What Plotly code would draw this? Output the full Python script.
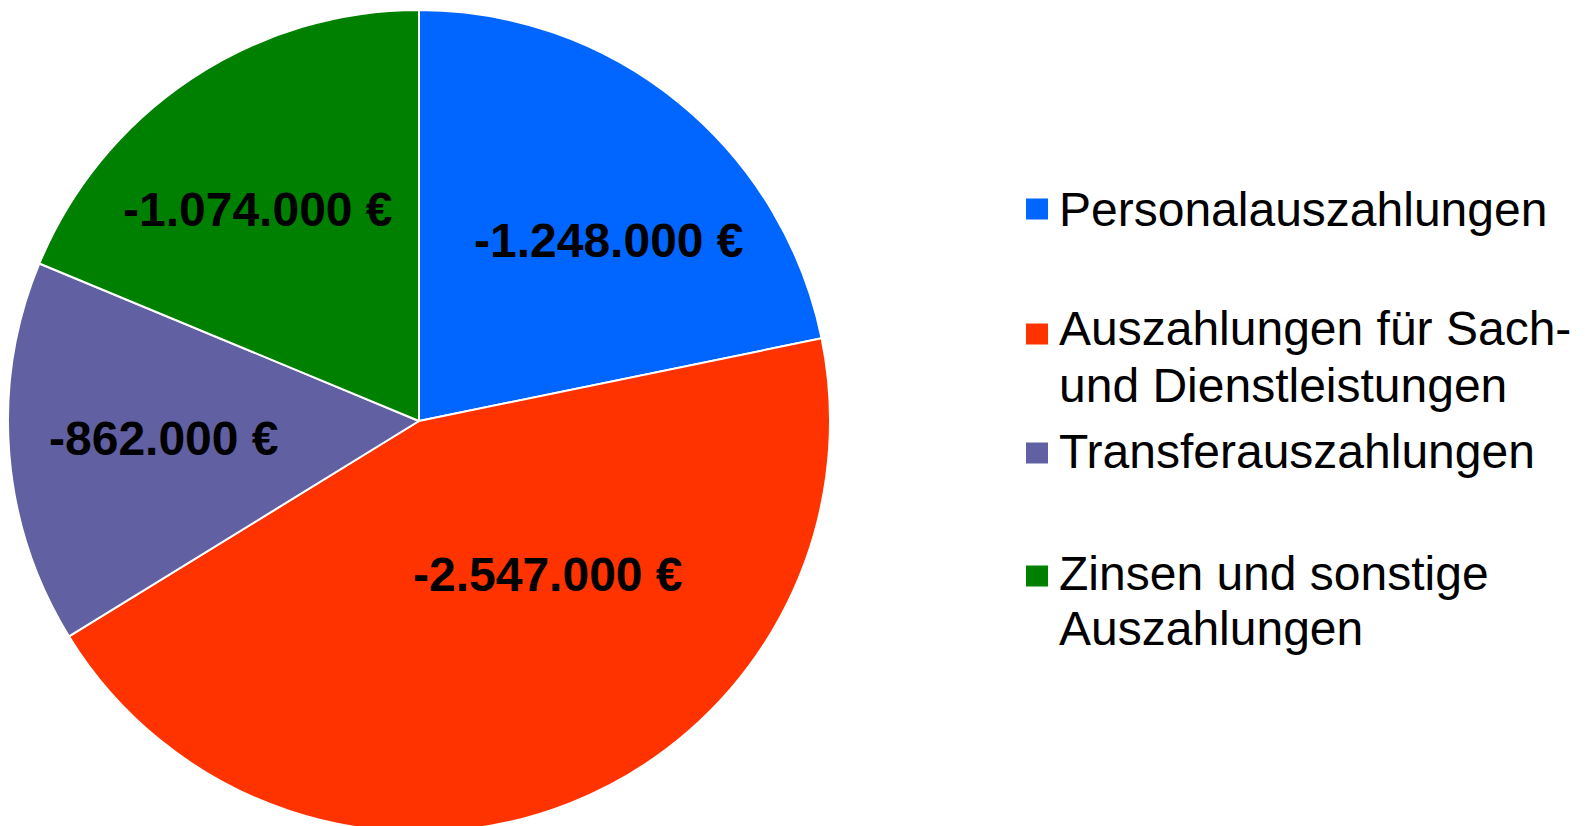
import plotly.graph_objects as go

categories = [
    "Personalauszahlungen",
    "Auszahlungen für Sach-<br>und Dienstleistungen",
    "Transferauszahlungen",
    "Zinsen und sonstige<br>Auszahlungen",
]
values = [1248000, 2547000, 862000, 1074000]
colors = ["#0066FF", "#FF3300", "#6060A2", "#008000"]

W, H = 1587, 826
labels_txt = ["-" + f"{v:,.0f}".replace(",", ".") + " €" for v in values]
# label centres (px) as placed in the original chart
label_pos_px = [(601, 232), (540, 566), (156, 430), (250, 201)]

fig = go.Figure()
fig.add_trace(go.Pie(
    labels=[c.replace("<br>", " ") for c in categories],
    values=values,
    textinfo="none",
    marker=dict(colors=colors, line=dict(color="white", width=2)),
    sort=False,
    direction="clockwise",
    rotation=0,
    domain=dict(x=[0, 822 / W], y=[0, 1]),
    showlegend=False,
    hoverinfo="label+value",
))

for txt, (px, py) in zip(labels_txt, label_pos_px):
    fig.add_annotation(xref="paper", yref="paper", x=px / W, y=1 - py / H,
                       xanchor="center", yanchor="middle", text="<b>" + txt + "</b>",
                       showarrow=False,
                       font=dict(family="Liberation Sans", size=48, color="black"))

# custom legend (large squares like the original)
line_rows_px = [[201], [320, 377], [444], [565, 620]]
square_rows_px = [201, 326, 445, 568]
for cat, col, ys_lines, ys in zip(categories, colors, line_rows_px, square_rows_px):
    fig.add_shape(type="rect", xref="paper", yref="paper",
                  x0=1018 / W, x1=1040 / W,
                  y0=1 - (ys + 10.5) / H, y1=1 - (ys - 10.5) / H,
                  fillcolor=col, line=dict(width=0))
    for line, yc in zip(cat.split("<br>"), ys_lines):
        fig.add_annotation(xref="paper", yref="paper", x=1049 / W, y=1 - yc / H,
                           xanchor="left", yanchor="middle", align="left",
                           text=line, showarrow=False,
                           font=dict(family="Liberation Sans", size=48, color="black"))

fig.update_layout(
    width=W, height=H,
    margin=dict(l=0, r=0, t=0, b=0),
    paper_bgcolor="white",
    plot_bgcolor="white",
)
fig.write_html("out.html")
